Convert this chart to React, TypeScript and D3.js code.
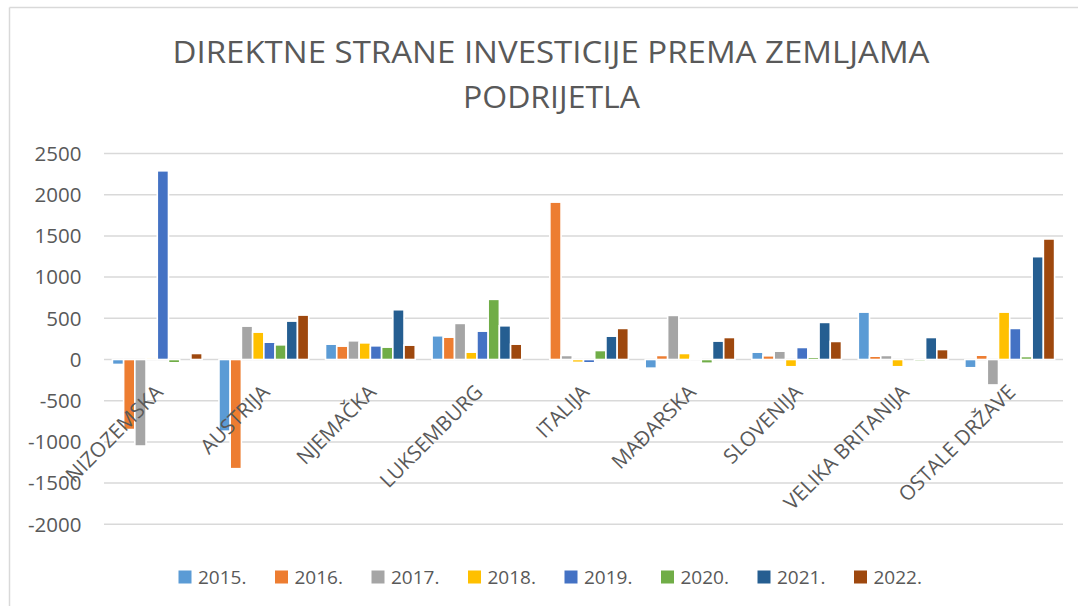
import React from "react";
import * as d3 from "d3";

const categories = ["NIZOZEMSKA", "AUSTRIJA", "NJEMAČKA", "LUKSEMBURG", "ITALIJA", "MAĐARSKA", "SLOVENIJA", "VELIKA BRITANIJA", "OSTALE DRŽAVE"];
const years = ["2015.", "2016.", "2017.", "2018.", "2019.", "2020.", "2021.", "2022."];
const colors = ["#5B9BD5", "#ED7D31", "#A5A5A5", "#FFC000", "#4472C4", "#70AD47", "#255E91", "#9E480E"];

const v2015 = [-60, -870, 186, 288, 0, -105, 89, 575, -100];
const v2016 = [-850, -1325, 162, 271, 1910, 49, 45, 40, 52];
const v2017 = [-1050, 405, 227, 438, 49, 535, 101, 49, -309];
const v2018 = [20, 332, 202, 89, -35, 73, -88, -88, 575];
const v2019 = [2290, 210, 166, 344, -40, 16, 146, 0, 377];
const v2020 = [-40, 178, 150, 730, 109, -45, 28, -22, 36];
const v2021 = [0, 466, 604, 409, 283, 223, 450, 267, 1248];
const v2022 = [73, 539, 174, 186, 377, 267, 219, 121, 1463];
const series = [v2015, v2016, v2017, v2018, v2019, v2020, v2021, v2022];

const yTicks = [-2000, -1500, -1000, -500, 0, 500, 1000, 1500, 2000, 2500];

const W = 1078;
const H = 606;
const plotLeft = 104;
const plotRight = 1063;
const textColor = "#595959";
const gridColor = "#D9D9D9";
const font = "'Open Sans', 'DejaVu Sans', sans-serif";

export default function App() {
  const y = d3.scaleLinear().domain([-2000, 2500]).range([524.3, 153.5]);
  const x = d3.scaleBand<string>().domain(categories).range([plotLeft, plotRight]).padding(0);
  const cw = x.bandwidth();
  const bw = cw / (years.length + 1.5);
  const inner = d3.scaleBand<string>().domain(years).range([0.75 * bw, 0.75 * bw + years.length * bw]).padding(0);
  const zeroY = y(0);

  return (
    <svg width={W} height={H} style={{ position: "absolute", left: 0, top: 0, background: "#fff" }} fontFamily={font}>
      <rect x={0} y={0} width={W} height={H} fill="#fff" />
      <line x1={9.5} x2={9.5} y1={7.5} y2={H} stroke={gridColor} strokeWidth={1.5} />
      <line x1={9.5} x2={W} y1={7.5} y2={7.5} stroke={gridColor} strokeWidth={1.5} />

      <text x={551} y={63.3} textAnchor="middle" fontSize={31} fill={textColor} textLength={757} lengthAdjust="spacingAndGlyphs">
        DIREKTNE STRANE INVESTICIJE PREMA ZEMLJAMA
      </text>
      <text x={551.5} y={107.5} textAnchor="middle" fontSize={31} fill={textColor} textLength={177} lengthAdjust="spacingAndGlyphs">
        PODRIJETLA
      </text>

      {yTicks.map((t) => (
        <g key={t}>
          <line x1={plotLeft} x2={plotRight} y1={y(t)} y2={y(t)} stroke={gridColor} strokeWidth={1.5} />
          <text x={81.5} y={y(t) + 7.3} textAnchor="end" fontSize={20.5} fill={textColor}>
            {t}
          </text>
        </g>
      ))}

      {series.map((vals, si) =>
        vals.map((v, ci) => {
          const x0 = (x(categories[ci]) as number) + (inner(years[si]) as number);
          const top = v >= 0 ? y(v) : zeroY;
          const h = Math.abs(y(v) - zeroY);
          if (h === 0) return null;
          return (
            <rect key={`${si}-${ci}`} x={x0} y={top} width={inner.bandwidth()} height={h} fill={colors[si]} stroke="#fff" strokeWidth={1.6} />
          );
        })
      )}

      {categories.map((c) => {
        const cx = (x(c) as number) + cw / 2 + 7;
        const cy = zeroY + 34;
        return (
          <text key={c} x={cx} y={cy} textAnchor="end" fontSize={20.5} fill={textColor} transform={`rotate(-45, ${cx}, ${cy})`}>
            {c}
          </text>
        );
      })}

      {years.map((yr, i) => {
        const lx = 178.5 + i * 96.5;
        return (
          <g key={yr}>
            <rect x={lx} y={570.5} width={13} height={13} fill={colors[i]} />
            <text x={lx + 19.5} y={584.3} fontSize={19} fill={textColor}>
              {yr}
            </text>
          </g>
        );
      })}
    </svg>
  );
}
